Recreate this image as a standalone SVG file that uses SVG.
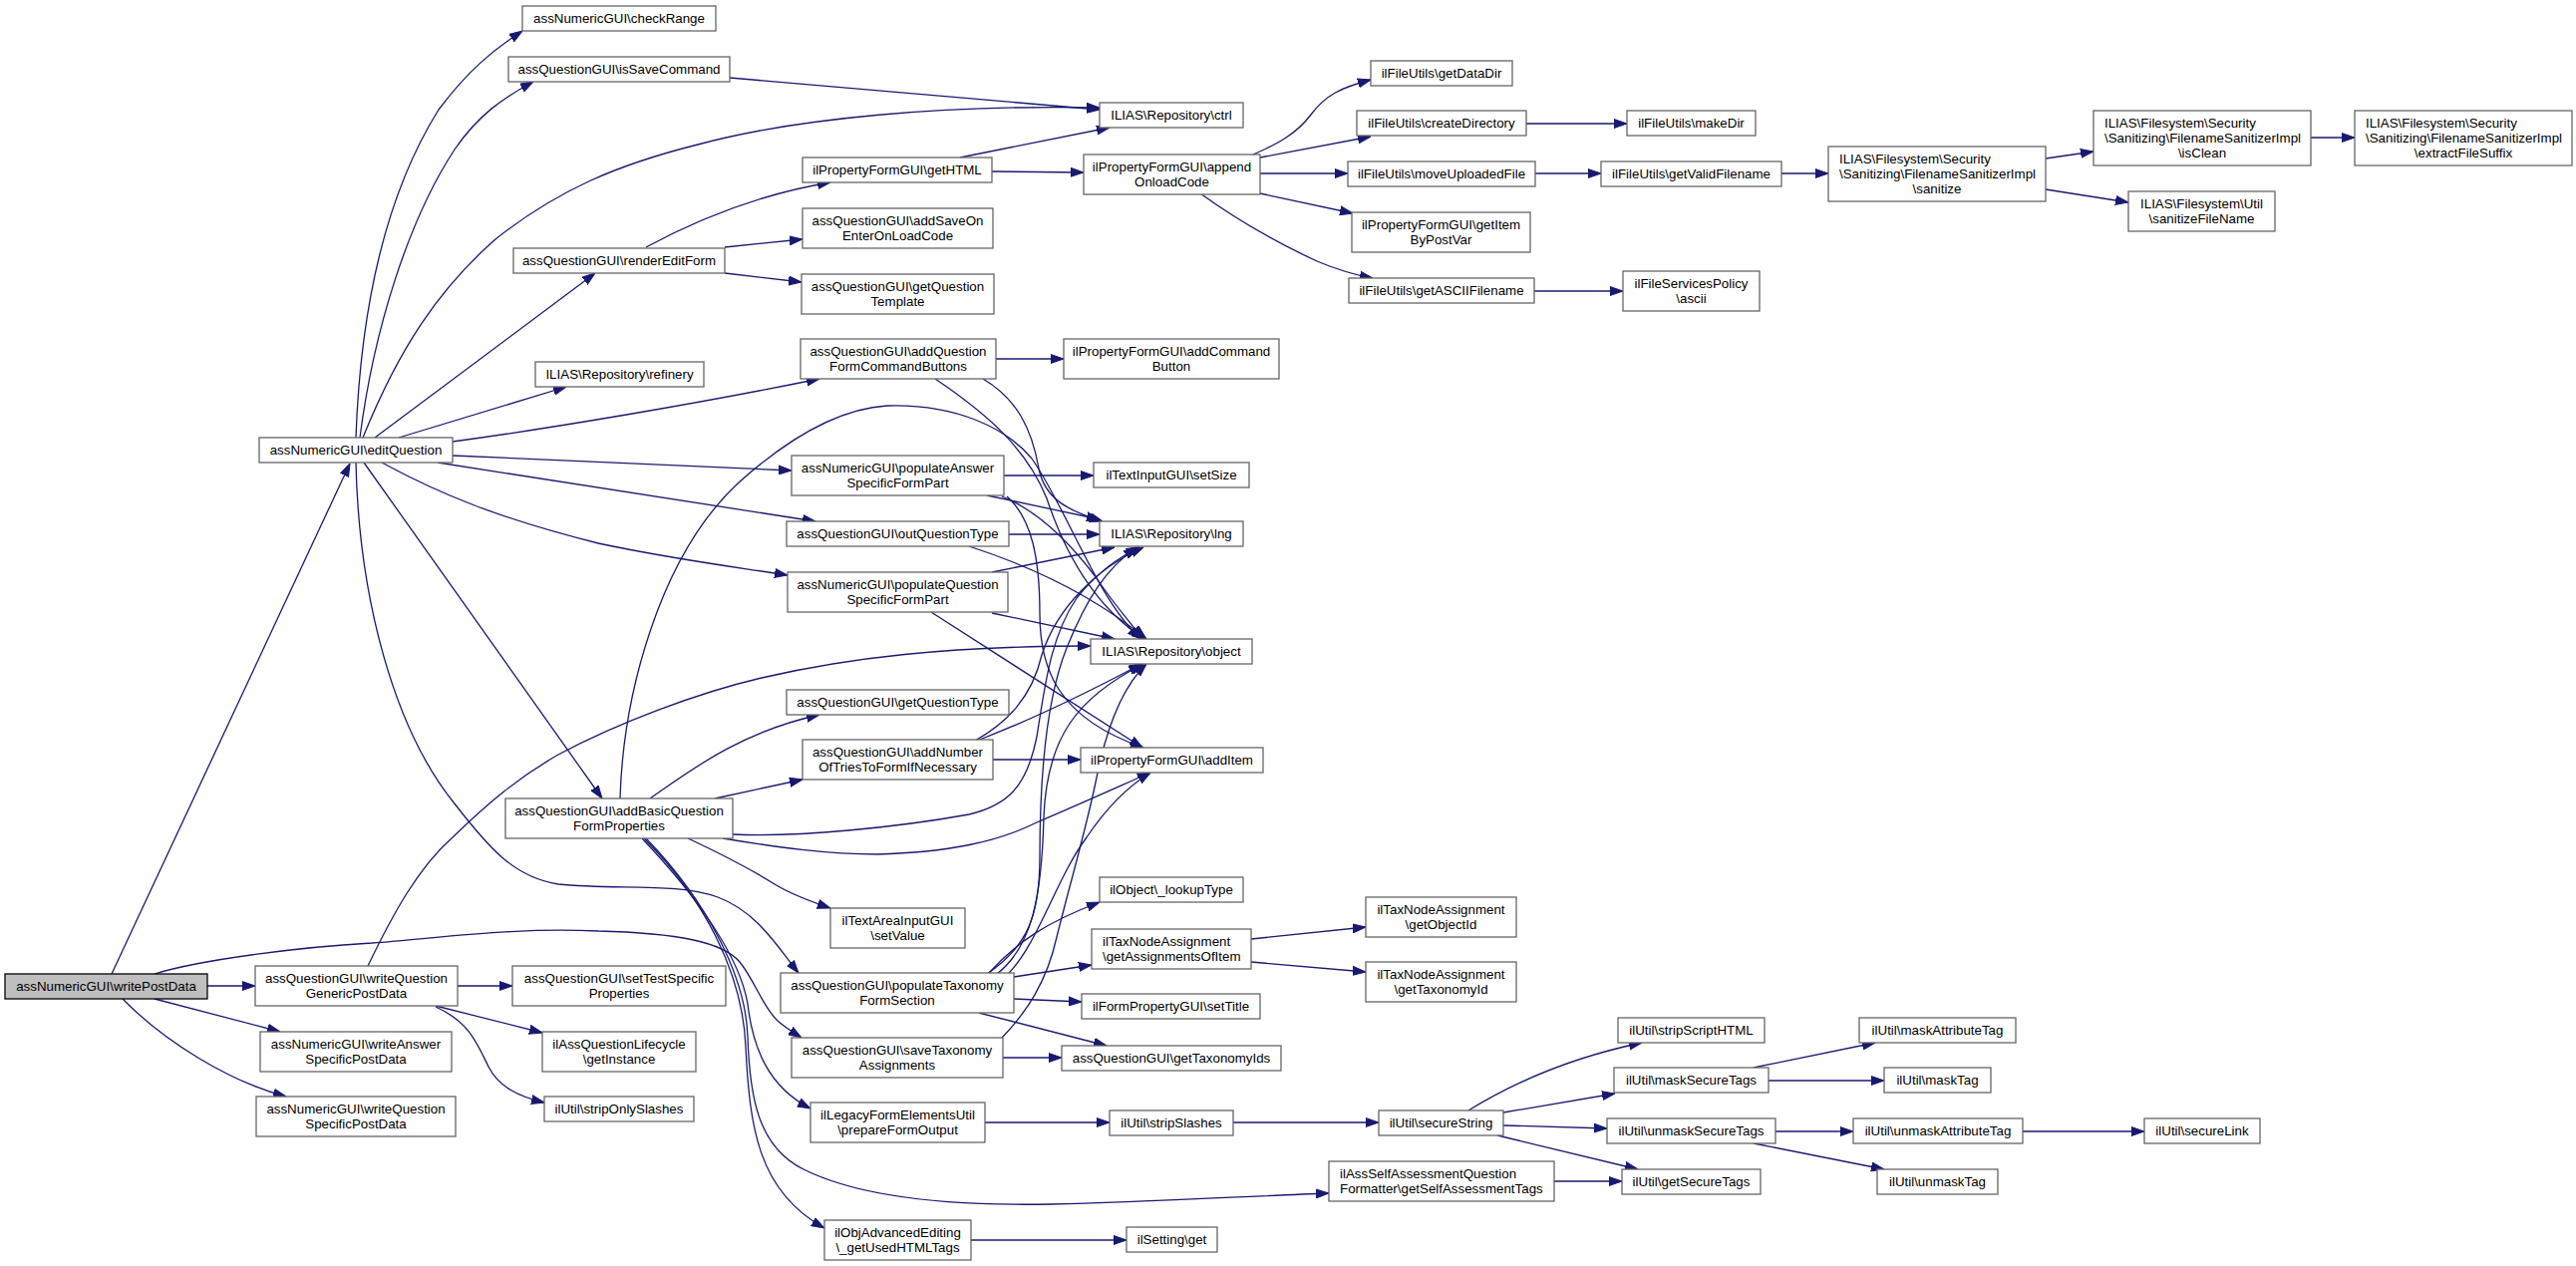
<svg xmlns="http://www.w3.org/2000/svg" width="2584" height="1270" viewBox="0 0 2584 1270">
<style>
.n rect{fill:#ffffff;stroke:#666666;stroke-width:1.3}
.root rect{fill:#bfbfbf;stroke:#000000;stroke-width:1.3}
text{font-family:"Liberation Sans",Arial,Helvetica,sans-serif;font-size:13.33px;fill:#000000;text-anchor:middle}
text.l{text-anchor:start}
#edges path{fill:none;stroke:#191970;stroke-width:1.3;marker-end:url(#arr)}
</style>
<defs>
<marker id="arr" markerUnits="userSpaceOnUse" markerWidth="13" markerHeight="10" viewBox="0 0 13 10" refX="13" refY="5" orient="auto">
<path d="M0,0.5 L13,5 L0,9.5 z" fill="#191970" stroke="#191970" stroke-width="1"/>
</marker>
</defs>
<rect x="0" y="0" width="2584" height="1270" fill="#ffffff"/>
<g id="edges">
<path d="M112,977 L351,465"/>
<path d="M208,989 L256,989"/>
<path d="M155,1002 L281,1035"/>
<path d="M123,1002 C165,1045 230,1085 287,1100"/>
<path d="M155,977 C200,963 300,950 373,946 C450,940 520,930 600,934 C680,936 725,945 742,965 C758,985 765,1010 780,1024 C788,1031 796,1036 804,1041"/>
<path d="M459,989 L514,989"/>
<path d="M437,1009 L544,1036"/>
<path d="M437,1010 C470,1025 478,1045 490,1070 C500,1090 520,1100 546,1106"/>
<path d="M369,969 C395,915 420,870 454,840 C490,805 520,780 560,757 C620,725 700,695 764,680 C850,660 950,648 1094,648"/>
<path d="M357,439 C362,300 390,190 440,110 C470,70 495,50 524,31"/>
<path d="M361,439 C375,330 410,220 456,150 C480,115 505,98 535,82"/>
<path d="M364,439 C400,350 440,290 497,240 C560,190 620,165 700,145 C800,118 950,105 1103,108"/>
<path d="M376,439 L597,274"/>
<path d="M400,439 L568,388"/>
<path d="M454,443 C550,430 700,405 822,380"/>
<path d="M454,457 L794,472"/>
<path d="M439,464 L818,523"/>
<path d="M383,464 C440,495 500,520 600,545 C680,562 740,569 790,577"/>
<path d="M365,464 L604,801"/>
<path d="M357,464 C360,600 395,730 455,805 C490,850 515,880 560,887 C620,893 680,885 720,900 C760,915 780,950 801,976"/>
<path d="M732,78 L1103,110"/>
<path d="M648,248 C700,220 760,195 833,183"/>
<path d="M727,248 L805,240"/>
<path d="M727,274 L804,283"/>
<path d="M963,158 L1113,128"/>
<path d="M995,172 L1087,173"/>
<path d="M999,360 L1067,360"/>
<path d="M986,380 C1020,400 1035,430 1042,470 C1048,500 1070,512 1106,523"/>
<path d="M938,380 C990,415 1030,450 1050,500 C1070,560 1100,610 1148,641"/>
<path d="M622,801 C625,700 660,560 740,485 C790,440 840,410 890,407 C960,405 1010,430 1035,460 C1070,510 1100,600 1144,641"/>
<path d="M735,837 C800,840 900,830 972,817 C1010,808 1030,790 1040,739 C1048,690 1053,640 1080,600 C1100,575 1120,560 1143,549"/>
<path d="M725,841 C780,850 830,857 880,857 C950,855 1000,845 1040,825 C1080,808 1120,790 1154,775"/>
<path d="M652,801 C690,775 740,735 822,717"/>
<path d="M717,801 L805,782"/>
<path d="M690,841 C720,855 750,870 777,887 C795,898 815,905 833,911"/>
<path d="M644,841 C700,900 742,960 750,1007 C755,1050 770,1090 813,1112"/>
<path d="M646,841 C705,900 745,975 748,1050 C752,1130 760,1195 827,1232"/>
<path d="M648,841 C710,905 748,980 750,1040 C752,1100 760,1150 806,1173 C860,1200 950,1210 1055,1208 C1150,1206 1250,1200 1333,1197"/>
<path d="M1007,477 L1097,477"/>
<path d="M990,497 L1103,521"/>
<path d="M1005,498 C1040,512 1070,540 1100,580 C1120,610 1135,625 1146,641"/>
<path d="M1010,498 C1035,520 1043,560 1043,616 C1043,670 1060,720 1147,750"/>
<path d="M1012,536 L1103,536"/>
<path d="M972,548 C1040,570 1100,600 1150,641"/>
<path d="M995,574 L1118,549"/>
<path d="M995,615 L1118,641"/>
<path d="M934,614 L1146,750"/>
<path d="M978,743 C1010,725 1035,700 1045,657 C1060,610 1100,570 1147,549"/>
<path d="M980,743 C1040,720 1100,690 1145,666"/>
<path d="M996,762 L1084,762"/>
<path d="M992,976 C1020,945 1050,925 1103,905"/>
<path d="M990,977 C1030,950 1043,920 1043,860 C1043,780 1050,700 1070,650 C1090,600 1110,570 1140,549"/>
<path d="M1000,977 C1035,950 1045,900 1047,820 C1050,740 1080,700 1147,666"/>
<path d="M1010,978 C1040,950 1060,880 1090,840 C1110,810 1130,790 1154,775"/>
<path d="M1017,980 L1095,968"/>
<path d="M1017,1002 L1085,1005"/>
<path d="M982,1016 L1110,1049"/>
<path d="M1005,1041 C1030,1015 1050,985 1060,940 C1075,880 1090,830 1100,780 C1110,730 1125,690 1150,666"/>
<path d="M1006,1061 L1065,1061"/>
<path d="M1255,942 L1370,930"/>
<path d="M1255,965 L1370,975"/>
<path d="M988,1126 L1113,1126"/>
<path d="M1237,1126 L1383,1126"/>
<path d="M974,1244 L1130,1244"/>
<path d="M1559,1185 L1627,1185"/>
<path d="M1473,1114 C1520,1085 1580,1060 1647,1046"/>
<path d="M1508,1116 L1620,1097"/>
<path d="M1508,1129 L1612,1132"/>
<path d="M1502,1139 L1643,1173"/>
<path d="M1759,1071 L1881,1046"/>
<path d="M1774,1084 L1890,1084"/>
<path d="M1781,1135 L1859,1135"/>
<path d="M1759,1147 L1890,1173"/>
<path d="M2029,1135 L2151,1135"/>
<path d="M1257,155 C1280,145 1300,135 1315,115 C1330,95 1345,88 1375,80"/>
<path d="M1264,158 L1375,137"/>
<path d="M1264,174 L1352,174"/>
<path d="M1264,194 L1357,214"/>
<path d="M1204,194 C1240,220 1280,243 1321,262 C1340,270 1360,276 1377,279"/>
<path d="M1531,124 L1632,124"/>
<path d="M1540,174 L1606,174"/>
<path d="M1787,174 L1834,174"/>
<path d="M1539,292 L1628,292"/>
<path d="M2052,159 L2100,152"/>
<path d="M2052,190 L2135,203"/>
<path d="M2318,138 L2362,138"/>
</g>
<g id="writePostData" class="root"><rect x="5" y="977" width="203" height="25"/><text x="106.5" y="994">assNumericGUI\writePostData</text></g>
<g id="editQuestion" class="n"><rect x="260" y="439" width="194" height="25"/><text x="357" y="456">assNumericGUI\editQuestion</text></g>
<g id="writeQuestionGenericPostData" class="n"><rect x="256" y="969" width="203" height="40"/><text x="357.5" y="985.5">assQuestionGUI\writeQuestion</text><text x="357.5" y="1000.5">GenericPostData</text></g>
<g id="writeAnswerSpecificPostData" class="n"><rect x="261" y="1035" width="192" height="40"/><text x="357" y="1051.5">assNumericGUI\writeAnswer</text><text x="357" y="1066.5">SpecificPostData</text></g>
<g id="writeQuestionSpecificPostData" class="n"><rect x="257" y="1100" width="200" height="40"/><text x="357" y="1116.5">assNumericGUI\writeQuestion</text><text x="357" y="1131.5">SpecificPostData</text></g>
<g id="checkRange" class="n"><rect x="524" y="6" width="194" height="25"/><text x="621" y="23">assNumericGUI\checkRange</text></g>
<g id="isSaveCommand" class="n"><rect x="510" y="57" width="222" height="25"/><text x="621" y="74">assQuestionGUI\isSaveCommand</text></g>
<g id="renderEditForm" class="n"><rect x="515" y="249" width="212" height="25"/><text x="621" y="266">assQuestionGUI\renderEditForm</text></g>
<g id="refinery" class="n"><rect x="537" y="363" width="169" height="25"/><text x="621.5" y="380">ILIAS\Repository\refinery</text></g>
<g id="addBasicQuestionFormProperties" class="n"><rect x="507" y="801" width="228" height="40"/><text x="621" y="817.5">assQuestionGUI\addBasicQuestion</text><text x="621" y="832.5">FormProperties</text></g>
<g id="setTestSpecificProperties" class="n"><rect x="514" y="969" width="214" height="40"/><text x="621" y="985.5">assQuestionGUI\setTestSpecific</text><text x="621" y="1000.5">Properties</text></g>
<g id="getInstance" class="n"><rect x="544" y="1035" width="154" height="40"/><text x="621" y="1051.5">ilAssQuestionLifecycle</text><text x="621" y="1066.5">\getInstance</text></g>
<g id="stripOnlySlashes" class="n"><rect x="546" y="1100" width="150" height="25"/><text x="621" y="1117">ilUtil\stripOnlySlashes</text></g>
<g id="ctrl" class="n"><rect x="1103" y="103" width="144" height="25"/><text x="1175" y="120">ILIAS\Repository\ctrl</text></g>
<g id="getHTML" class="n"><rect x="805" y="158" width="190" height="25"/><text x="900" y="175">ilPropertyFormGUI\getHTML</text></g>
<g id="appendOnloadCode" class="n"><rect x="1087" y="155" width="177" height="40"/><text x="1175.5" y="171.5">ilPropertyFormGUI\append</text><text x="1175.5" y="186.5">OnloadCode</text></g>
<g id="addSaveOnEnterOnLoadCode" class="n"><rect x="805" y="209" width="191" height="40"/><text x="900.5" y="225.5">assQuestionGUI\addSaveOn</text><text x="900.5" y="240.5">EnterOnLoadCode</text></g>
<g id="getQuestionTemplate" class="n"><rect x="804" y="275" width="193" height="40"/><text x="900.5" y="291.5">assQuestionGUI\getQuestion</text><text x="900.5" y="306.5">Template</text></g>
<g id="addQuestionFormCommandButtons" class="n"><rect x="803" y="340" width="196" height="40"/><text x="901" y="356.5">assQuestionGUI\addQuestion</text><text x="901" y="371.5">FormCommandButtons</text></g>
<g id="addCommandButton" class="n"><rect x="1067" y="340" width="216" height="40"/><text x="1175" y="356.5">ilPropertyFormGUI\addCommand</text><text x="1175" y="371.5">Button</text></g>
<g id="populateAnswerSpecificFormPart" class="n"><rect x="794" y="457" width="213" height="40"/><text x="900.5" y="473.5">assNumericGUI\populateAnswer</text><text x="900.5" y="488.5">SpecificFormPart</text></g>
<g id="setSize" class="n"><rect x="1097" y="464" width="156" height="25"/><text x="1175" y="481">ilTextInputGUI\setSize</text></g>
<g id="outQuestionType" class="n"><rect x="789" y="523" width="223" height="25"/><text x="900.5" y="540">assQuestionGUI\outQuestionType</text></g>
<g id="lng" class="n"><rect x="1103" y="523" width="144" height="25"/><text x="1175" y="540">ILIAS\Repository\lng</text></g>
<g id="populateQuestionSpecificFormPart" class="n"><rect x="790" y="574" width="221" height="40"/><text x="900.5" y="590.5">assNumericGUI\populateQuestion</text><text x="900.5" y="605.5">SpecificFormPart</text></g>
<g id="object" class="n"><rect x="1094" y="641" width="162" height="25"/><text x="1175" y="658">ILIAS\Repository\object</text></g>
<g id="getQuestionType" class="n"><rect x="789" y="692" width="223" height="25"/><text x="900.5" y="709">assQuestionGUI\getQuestionType</text></g>
<g id="addNumberOfTriesToFormIfNecessary" class="n"><rect x="805" y="742" width="191" height="40"/><text x="900.5" y="758.5">assQuestionGUI\addNumber</text><text x="900.5" y="773.5">OfTriesToFormIfNecessary</text></g>
<g id="addItem" class="n"><rect x="1084" y="750" width="183" height="25"/><text x="1175.5" y="767">ilPropertyFormGUI\addItem</text></g>
<g id="setValue" class="n"><rect x="833" y="911" width="135" height="40"/><text x="900.5" y="927.5">ilTextAreaInputGUI</text><text x="900.5" y="942.5">\setValue</text></g>
<g id="lookupType" class="n"><rect x="1103" y="880" width="144" height="25"/><text x="1175" y="897">ilObject\_lookupType</text></g>
<g id="getAssignmentsOfItem" class="n"><rect x="1095" y="932" width="160" height="40"/><text class="l" x="1106" y="948.5">ilTaxNodeAssignment</text><text class="l" x="1106" y="963.5">\getAssignmentsOfItem</text></g>
<g id="populateTaxonomyFormSection" class="n"><rect x="783" y="976" width="234" height="40"/><text x="900" y="992.5">assQuestionGUI\populateTaxonomy</text><text x="900" y="1007.5">FormSection</text></g>
<g id="setTitle" class="n"><rect x="1085" y="997" width="179" height="25"/><text x="1174.5" y="1014">ilFormPropertyGUI\setTitle</text></g>
<g id="saveTaxonomyAssignments" class="n"><rect x="794" y="1041" width="212" height="40"/><text x="900" y="1057.5">assQuestionGUI\saveTaxonomy</text><text x="900" y="1072.5">Assignments</text></g>
<g id="getTaxonomyIds" class="n"><rect x="1065" y="1049" width="220" height="25"/><text x="1175" y="1066">assQuestionGUI\getTaxonomyIds</text></g>
<g id="prepareFormOutput" class="n"><rect x="813" y="1106" width="175" height="40"/><text x="900.5" y="1122.5">ilLegacyFormElementsUtil</text><text x="900.5" y="1137.5">\prepareFormOutput</text></g>
<g id="stripSlashes" class="n"><rect x="1113" y="1114" width="124" height="25"/><text x="1175" y="1131">ilUtil\stripSlashes</text></g>
<g id="getUsedHTMLTags" class="n"><rect x="827" y="1224" width="147" height="40"/><text x="900.5" y="1240.5">ilObjAdvancedEditing</text><text x="900.5" y="1255.5">\_getUsedHTMLTags</text></g>
<g id="ilSettingGet" class="n"><rect x="1130" y="1231" width="91" height="25"/><text x="1175.5" y="1248">ilSetting\get</text></g>
<g id="getDataDir" class="n"><rect x="1375" y="61" width="142" height="25"/><text x="1446" y="78">ilFileUtils\getDataDir</text></g>
<g id="createDirectory" class="n"><rect x="1361" y="111" width="170" height="25"/><text x="1446" y="128">ilFileUtils\createDirectory</text></g>
<g id="makeDir" class="n"><rect x="1632" y="111" width="129" height="25"/><text x="1696.5" y="128">ilFileUtils\makeDir</text></g>
<g id="moveUploadedFile" class="n"><rect x="1352" y="162" width="188" height="25"/><text x="1446" y="179">ilFileUtils\moveUploadedFile</text></g>
<g id="getValidFilename" class="n"><rect x="1606" y="162" width="181" height="25"/><text x="1696.5" y="179">ilFileUtils\getValidFilename</text></g>
<g id="sanitize" class="n"><rect x="1834" y="147" width="218" height="55"/><text class="l" x="1845" y="164">ILIAS\Filesystem\Security</text><text class="l" x="1845" y="179">\Sanitizing\FilenameSanitizerImpl</text><text x="1943" y="194">\sanitize</text></g>
<g id="getItemByPostVar" class="n"><rect x="1356" y="213" width="179" height="40"/><text x="1445.5" y="229.5">ilPropertyFormGUI\getItem</text><text x="1445.5" y="244.5">ByPostVar</text></g>
<g id="getASCIIFilename" class="n"><rect x="1353" y="279" width="186" height="25"/><text x="1446" y="296">ilFileUtils\getASCIIFilename</text></g>
<g id="ascii" class="n"><rect x="1628" y="272" width="137" height="40"/><text x="1696.5" y="288.5">ilFileServicesPolicy</text><text x="1696.5" y="303.5">\ascii</text></g>
<g id="isClean" class="n"><rect x="2100" y="111" width="218" height="55"/><text class="l" x="2111" y="128">ILIAS\Filesystem\Security</text><text class="l" x="2111" y="143">\Sanitizing\FilenameSanitizerImpl</text><text x="2209" y="158">\isClean</text></g>
<g id="extractFileSuffix" class="n"><rect x="2362" y="111" width="218" height="55"/><text class="l" x="2373" y="128">ILIAS\Filesystem\Security</text><text class="l" x="2373" y="143">\Sanitizing\FilenameSanitizerImpl</text><text x="2471" y="158">\extractFileSuffix</text></g>
<g id="sanitizeFileName" class="n"><rect x="2135" y="192" width="147" height="40"/><text x="2208.5" y="208.5">ILIAS\Filesystem\Util</text><text x="2208.5" y="223.5">\sanitizeFileName</text></g>
<g id="getObjectId" class="n"><rect x="1370" y="900" width="151" height="40"/><text x="1445.5" y="916.5">ilTaxNodeAssignment</text><text x="1445.5" y="931.5">\getObjectId</text></g>
<g id="getTaxonomyId" class="n"><rect x="1370" y="965" width="151" height="40"/><text x="1445.5" y="981.5">ilTaxNodeAssignment</text><text x="1445.5" y="996.5">\getTaxonomyId</text></g>
<g id="stripScriptHTML" class="n"><rect x="1623" y="1021" width="147" height="25"/><text x="1696.5" y="1038">ilUtil\stripScriptHTML</text></g>
<g id="maskSecureTags" class="n"><rect x="1619" y="1071" width="155" height="25"/><text x="1696.5" y="1088">ilUtil\maskSecureTags</text></g>
<g id="secureString" class="n"><rect x="1383" y="1114" width="125" height="25"/><text x="1445.5" y="1131">ilUtil\secureString</text></g>
<g id="unmaskSecureTags" class="n"><rect x="1612" y="1122" width="169" height="25"/><text x="1696.5" y="1139">ilUtil\unmaskSecureTags</text></g>
<g id="getSelfAssessmentTags" class="n"><rect x="1333" y="1165" width="226" height="40"/><text class="l" x="1344" y="1181.5">ilAssSelfAssessmentQuestion</text><text class="l" x="1344" y="1196.5">Formatter\getSelfAssessmentTags</text></g>
<g id="getSecureTags" class="n"><rect x="1627" y="1173" width="139" height="25"/><text x="1696.5" y="1190">ilUtil\getSecureTags</text></g>
<g id="maskAttributeTag" class="n"><rect x="1865" y="1021" width="157" height="25"/><text x="1943.5" y="1038">ilUtil\maskAttributeTag</text></g>
<g id="maskTag" class="n"><rect x="1890" y="1071" width="107" height="25"/><text x="1943.5" y="1088">ilUtil\maskTag</text></g>
<g id="unmaskAttributeTag" class="n"><rect x="1859" y="1122" width="170" height="25"/><text x="1944" y="1139">ilUtil\unmaskAttributeTag</text></g>
<g id="secureLink" class="n"><rect x="2151" y="1122" width="116" height="25"/><text x="2209" y="1139">ilUtil\secureLink</text></g>
<g id="unmaskTag" class="n"><rect x="1883" y="1173" width="121" height="25"/><text x="1943.5" y="1190">ilUtil\unmaskTag</text></g>
</svg>
